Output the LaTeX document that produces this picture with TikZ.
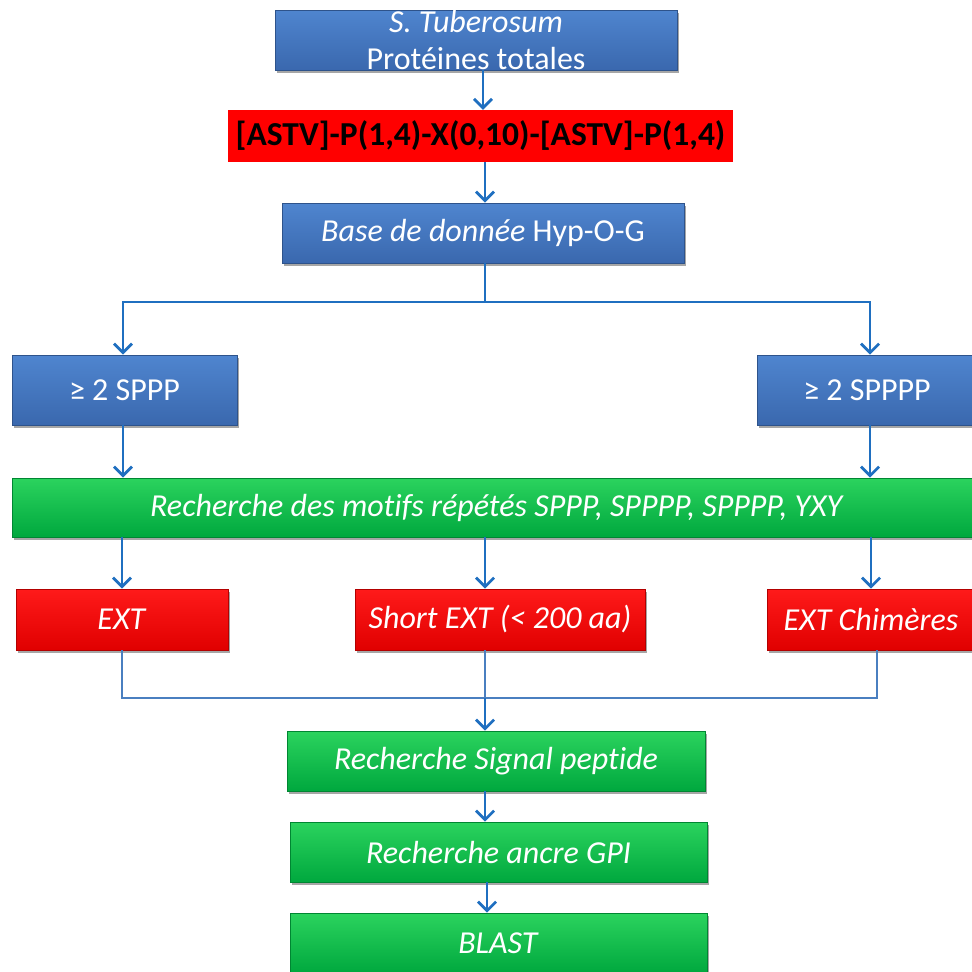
\documentclass[tikz,border=0pt]{standalone}
\usepackage{fontspec}
\setmainfont[Ligatures={NoCommon}]{Carlito}
\usetikzlibrary{arrows.meta,shadows,calc}
\definecolor{bluetop}{HTML}{4F85CF}
\definecolor{bluebot}{HTML}{3A68AE}
\definecolor{redtop}{HTML}{FF1A1A}
\definecolor{redbot}{HTML}{E00000}
\definecolor{greentop}{HTML}{2BD35E}
\definecolor{greenbot}{HTML}{00A83E}
\definecolor{arrowblue}{HTML}{1F6FC0}
\definecolor{linkblue}{HTML}{4A7FC0}
\tikzset{
  boxbase/.style={rectangle, inner sep=0pt, align=center, text=white,
    font=\fontsize{32}{37}\selectfont,
    drop shadow={shadow xshift=2pt, shadow yshift=-3pt, opacity=0.35, fill=black}},
  bluebox/.style={boxbase, top color=bluetop, bottom color=bluebot, draw=bluebot!80!black, line width=0.6pt},
  redbox/.style={boxbase, top color=redtop, bottom color=redbot, draw=redbot!80!black, line width=0.6pt},
  greenbox/.style={boxbase, top color=greentop, bottom color=greenbot, draw=greenbot!80!black, line width=0.6pt},
  arr/.style={draw=arrowblue, line width=2.8pt, -{Straight Barb[length=9pt, width=18pt]}},
  link/.style={draw=linkblue, line width=2.2pt}
}
\begin{document}
\begin{tikzpicture}[x=1pt, y=-1pt]
\useasboundingbox (0,0) rectangle (972,972);
\clip (0,0) rectangle (972,972);
% nodes
\node[bluebox, minimum width=402pt, minimum height=60pt] (b1) at (476,40)
  {\textit{S. Tuberosum}\\Protéines totales};
\node[rectangle, inner sep=0pt, fill=red, minimum width=505pt, minimum height=52pt,
  font=\fontsize{33.5}{38}\selectfont\bfseries, text=black] (b2) at (480.5,136)
  {[ASTV]-P(1,4)-X(0,10)-[ASTV]-P(1,4)};
\node[bluebox, minimum width=402pt, minimum height=60pt] (b3) at (483,233)
  {\textit{Base de donnée} Hyp-O-G};
\node[bluebox, minimum width=225pt, minimum height=70pt] (b4) at (124.5,390)
  {≥ 2 SPPP};
\node[bluebox, minimum width=220pt, minimum height=70pt] (b5) at (867,390)
  {≥ 2 SPPPP};
\node[greenbox, minimum width=970pt, minimum height=59pt] (b6) at (497,507.5)
  {\textit{Recherche des motifs répétés SPPP, SPPPP, SPPPP, YXY}};
\node[redbox, minimum width=212pt, minimum height=61pt] (ext) at (122,619.5)
  {\textit{EXT}};
\node[redbox, minimum width=290pt, minimum height=61pt] (short) at (500,619.5)
  {\textit{Short EXT (< 200 aa)}};
\node[redbox, minimum width=208pt, minimum height=61pt] (chim) at (871,619.5)
  {\textit{EXT Chimères}};
\node[greenbox, minimum width=418pt, minimum height=60pt] (g7) at (496,761)
  {\textit{Recherche Signal peptide}};
\node[greenbox, minimum width=417pt, minimum height=60pt] (g8) at (498.5,852)
  {\textit{Recherche ancre GPI}};
\node[greenbox, minimum width=417pt, minimum height=60pt] (g9) at (498.5,943)
  {\textit{BLAST}};
% connectors
\draw[arr] ([xshift=7pt]b1.south) -- ([xshift=7pt]b1.south |- b2.north);
\draw[arr] ([xshift=4.5pt]b2.south) -- ([xshift=4.5pt]b2.south |- b3.north);
\coordinate (j1) at (485,302);
\draw[arr, -] (b3.south -| j1) -- (j1);
\draw[arr] (j1) -| ([xshift=-1.5pt]b4.north);
\draw[arr] (j1) -| ([xshift=3pt]b5.north);
\draw[arr] ([xshift=-1.5pt]b4.south) -- ([xshift=-1.5pt]b4.south |- b6.north);
\draw[arr] ([xshift=3pt]b5.south) -- ([xshift=3pt]b5.south |- b6.north);
\draw[arr] (ext.north |- b6.south) -- (ext.north);
\draw[arr] ([xshift=-15pt]short.north |- b6.south) -- ([xshift=-15pt]short.north);
\draw[arr] (chim.north |- b6.south) -- (chim.north);
\coordinate (j2) at (485,698);
\draw[link] (ext.south) |- (j2) -| ([xshift=6pt]chim.south);
\draw[link] ([xshift=-15pt]short.south) -- (j2);
\draw[arr] (j2) -- (j2 |- g7.north);
\draw[arr] ([xshift=-11pt]g7.south) -- ([xshift=-11pt]g7.south |- g8.north);
\draw[arr] ([xshift=-11.5pt]g8.south) -- ([xshift=-11.5pt]g8.south |- g9.north);
\end{tikzpicture}
\end{document}
